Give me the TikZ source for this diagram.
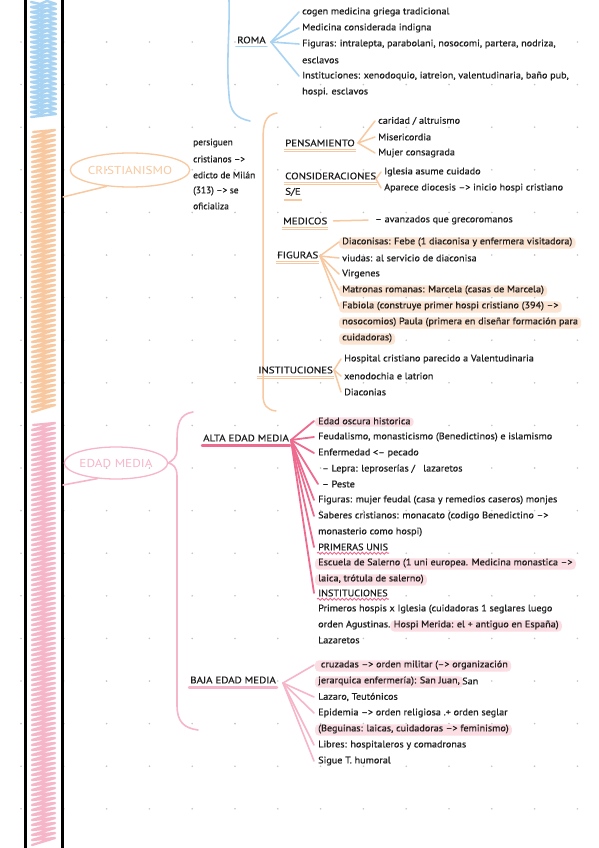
\documentclass[tikz,border=0pt]{standalone}
\usepackage{fontspec}
\setmainfont{PT Sans}
\newfontfamily\txtfont[Ligatures=TeX, FakeStretch=1.07, FakeBold=0.6]{PT Sans}
\newfontfamily\narfont[Ligatures=TeX, FakeBold=0.6]{PT Sans}
\newfontfamily\hdfont[Ligatures=TeX, FakeStretch=1.15, FakeBold=0.6]{PT Sans}
\newfontfamily\bubfont[Ligatures=TeX, FakeStretch=1.15]{PT Sans}
\usetikzlibrary{backgrounds,decorations.pathmorphing,shapes.geometric}
\definecolor{bl}{HTML}{A9D3F2}
\definecolor{orc}{HTML}{F8C9A0}
\definecolor{orl}{HTML}{FCE4D2}
\definecolor{pk}{HTML}{F6B6C9}
\definecolor{pkd}{HTML}{EE6B90}
\definecolor{pkl}{HTML}{FBDDE4}
\definecolor{ink}{HTML}{1E1E1E}
\definecolor{dotc}{HTML}{C4C4C4}
\begin{document}
\begin{tikzpicture}[x=1pt,y=-1pt,
  txt/.style={anchor=west, inner sep=1pt, text=ink, font=\txtfont\fontsize{9.5}{10}\selectfont},
  ntxt/.style={anchor=west, inner sep=1pt, text=ink, font=\narfont\fontsize{9.4}{10}\selectfont},
  hd/.style={anchor=west, inner sep=1pt, text=ink, font=\hdfont\fontsize{9.5}{10}\selectfont},
  bub/.style={ellipse, line width=1.3pt, inner sep=0pt, font=\bubfont\fontsize{11.5}{12}\selectfont},
  blline/.style={bl, line width=1.6pt, line cap=round},
  orline/.style={orc, line width=1.5pt, line cap=round},
  uline/.style={orc, line width=0.8pt},
  pkline/.style={pkd, line width=1.8pt, line cap=round},
  plline/.style={pk, line width=1.6pt, line cap=round},
  hlo/.style={orl, rounded corners=4pt},
  hlp/.style={pkl, rounded corners=4pt},
  wav/.style={pkd, line width=0.9pt, decorate, decoration={snake, amplitude=1pt, segment length=4pt}}]
\useasboundingbox (0,0) rectangle (599,848);
\begin{scope}[on background layer]
\fill[white] (0,0) rectangle (599,848);
\foreach \i in {0,...,13} \foreach \j in {0,...,19} \fill[dotc] ({21+42.8*\i},{42+42.6*\j}) circle (0.9pt);
\end{scope}

% ---- left bar ----
\draw[bl, line width=2.4pt, line cap=round, line join=round] (31,2) \foreach \y in {2,7,...,112} { -- (40,\y+2) -- (47,\y-1) -- (56,\y+2) -- (31,\y+5) };
\draw[orc, line width=2.3pt, line cap=round, line join=round] (33,132) \foreach \y in {130,135,...,405} { -- (55,\y) -- (32,\y+7) };
\draw[pk, line width=2.3pt, line cap=round, line join=round] (33,425) \foreach \y in {423,428,...,840} { -- (55,\y) -- (32,\y+7) };
\draw[black, line width=3pt] (25,0) -- (25,848);
\draw[black, line width=3pt] (62,0) -- (62,848);

% ---- ROMA ----
\draw[blline] (229,0) .. controls (230,30) and (226,60) .. (229,95) .. controls (230,112) and (236,118) .. (250,121);
\node[hd] (roma) at (236,40) {ROMA};
\draw[blline] ([yshift=-2pt]roma.south west) -- ([yshift=-2pt]roma.south east);
\coordinate (romaO) at (271,42);
\node[txt] (r1) at (301,12) {cogen medicina griega tradicional};
\node[txt] (r2) at (301,28) {Medicina considerada indigna};
\node[txt] (r3) at (301,44) {Figuras: intralepta, parabolani, nosocomi, partera, nodriza,};
\node[txt] (r4) at (301,60) {esclavos};
\node[txt] (r5) at (301,76) {Instituciones: xenodoquio, iatreion, valentudinaria, baño pub,};
\node[txt] (r6) at (301,92) {hospi. esclavos};
\foreach \n in {r1,r2,r3,r5} \draw[blline] (romaO) -- ([xshift=-2pt]\n.west);

% ---- CRISTIANISMO ----
\node[bub, draw=orc, text=orc, minimum width=110pt, minimum height=34pt] (cri) at (130,170) {CRISTIANISMO};
\coordinate (barC) at (63,197);
\draw[orline] (barC) -- (cri.215);
\node[ntxt] (p1) at (192,143) {persiguen};
\node[ntxt] (p2) at (192,159) {cristianos -->};
\node[ntxt] (p3) at (192,175) {edicto de Milán};
\node[ntxt] (p4) at (192,191) {(313) --> se};
\node[ntxt] (p5) at (192,206) {oficializa};
\draw[orline] (277,113) .. controls (265,115) and (263,124) .. (263,140) -- (263,395) .. controls (263,405) and (267,410) .. (276,411);

\node[hd] (pen) at (284,143) {PENSAMIENTO};
\draw[uline] ([yshift=-2pt]pen.south west) -- ([yshift=-2pt]pen.south east);
\draw[uline] ([yshift=-3.5pt]pen.south west) -- ([yshift=-3.5pt]pen.south east);
\coordinate (penO) at (358,143);
\node[txt] (pe1) at (377,121) {caridad / altruismo};
\node[txt] (pe2) at (377,137) {Misericordia};
\node[txt] (pe3) at (377,153) {Mujer consagrada};
\foreach \n in {pe1,pe2,pe3} \draw[orline] (penO) -- ([xshift=-2pt]\n.west);

\node[hd] (con) at (284,176) {CONSIDERACIONES};
\node[hd] (se) at (284,192) {S/E};
\draw[uline] ([yshift=-2pt]con.south west) -- ([yshift=-2pt]con.south east);
\draw[uline] ([yshift=-3.5pt]con.south west) -- ([yshift=-3.5pt]con.south east);
\draw[uline] ([yshift=-2pt]se.south west) -- ([yshift=-2pt]se.south east);
\draw[uline] ([yshift=-3.5pt]se.south west) -- ([yshift=-3.5pt]se.south east);
\coordinate (conO) at (376,179);
\node[txt] (c1) at (383,172) {Iglesia asume cuidado};
\node[txt] (c2) at (383,188) {Aparece diocesis --> inicio hospi cristiano};
\foreach \n in {c1,c2} \draw[orline] (conO) -- ([xshift=-2pt]\n.west);

\node[hd] (med) at (282,221) {MEDICOS};
\draw[uline] ([yshift=-2pt]med.south west) -- ([yshift=-2pt]med.south east);
\draw[uline] ([yshift=-3.5pt]med.south west) -- ([yshift=-3.5pt]med.south east);
\node[txt] (m1) at (374,220) {-- avanzados que grecoromanos};
\draw[orline, shorten <=5pt, shorten >=6pt] (med.east) -- (m1.west);

\node[hd] (fig) at (276,255) {FIGURAS};
\draw[uline] ([yshift=-2pt]fig.south west) -- ([yshift=-2pt]fig.south east);
\draw[uline] ([yshift=-3.5pt]fig.south west) -- ([yshift=-3.5pt]fig.south east);
\coordinate (figO) at (320,256);
\node[txt] (f1) at (341,242) {Diaconisas: Febe (1 diaconisa y enfermera visitadora)};
\node[txt] (f2) at (341,258) {viudas: al servicio de diaconisa};
\node[txt] (f3) at (341,274) {Virgenes};
\node[txt] (f4) at (341,290) {Matronas romanas: Marcela (casas de Marcela)};
\node[txt] (f5) at (341,306) {Fabiola (construye primer hospi cristiano (394) -->};
\node[txt] (f6) at (341,322) {nosocomios) Paula (primera en diseñar formación para};
\node[txt] (f7) at (341,338) {cuidadoras)};
\foreach \n in {f1,f2,f3,f4,f5} \draw[orline] (figO) -- ([xshift=-2pt]\n.west);

\node[hd] (ins) at (257,370) {INSTITUCIONES};
\draw[uline] ([yshift=-2pt]ins.south west) -- ([yshift=-2pt]ins.south east);
\draw[uline] ([yshift=-3.5pt]ins.south west) -- ([yshift=-3.5pt]ins.south east);
\coordinate (insO) at (334,370);
\node[txt] (i1) at (343,359) {Hospital cristiano parecido a Valentudinaria};
\node[txt] (i2) at (343,376) {xenodochia e latrion};
\node[txt] (i3) at (343,392) {Diaconias};
\foreach \n in {i1,i2,i3} \draw[orline] (insO) -- ([xshift=-2pt]\n.west);

% ---- EDAD MEDIA ----
\node[bub, draw=pk, text=pk, minimum width=90pt, minimum height=32pt] (edm) at (116,463) {EDAD MEDIA};
\coordinate (barE) at (63,485);
\draw[plline] (barE) -- (edm.220);
\draw[plline] (193,412) .. controls (179,414) and (177,425) .. (177,440) -- (177,450) .. controls (177,457) and (173,460) .. (edm.east) .. controls (173,464) and (177,467) .. (177,476) -- (177,705) .. controls (177,722) and (184,728) .. (198,730);

\node[hd] (alta) at (202,438) {ALTA EDAD MEDIA};
\draw[pkd, line width=2.4pt, line cap=round] ([yshift=-3pt]alta.south west) -- ([yshift=-3pt]alta.south east);
\coordinate (altaO) at (291,440);
\node[txt] (a1) at (317,421) {Edad oscura historica};
\node[txt] (a2) at (317,437) {Feudalismo, monasticismo (Benedictinos) e islamismo};
\node[txt] (a3) at (317,453) {Enfermedad <-- pecado};
\node[txt] (a4) at (321,469) {-- Lepra: leproserías /\ \ \ lazaretos};
\node[txt] (a5) at (321,484) {-- Peste};
\node[txt] (a6) at (317,500) {Figuras: mujer feudal (casa y remedios caseros) monjes};
\node[txt] (a7) at (317,516) {Saberes cristianos: monacato (codigo Benedictino -->};
\node[txt] (a8) at (317,532) {monasterio como hospi)};
\node[txt] (a9) at (317,547) {PRIMERAS UNIS};
\node[txt] (a10) at (317,563) {Escuela de Salerno (1 uni europea. Medicina monastica -->};
\node[txt] (a11) at (317,579) {laica, trótula de salerno)};
\node[txt] (a12) at (317,593) {INSTITUCIONES};
\node[txt] (a13) at (317,609) {Primeros hospis x Iglesia (cuidadoras 1 seglares luego};
\node[txt] (a14) at (317,625) {orden Agustinas.};
\node[txt, anchor=west] (a14b) at ([xshift=1pt]a14.east) {Hospi Merida: el + antiguo en España)};
\node[txt] (a15) at (317,640) {Lazaretos};
\foreach \n in {a1,a2,a3,a5,a6,a7,a9,a12} \draw[pkline] (altaO) -- ([xshift=-3pt]\n.west);
\draw[wav] ([yshift=-1.5pt]a9.south west) -- ([yshift=-1.5pt]a9.south east);
\draw[wav] ([yshift=-1.5pt]a12.south west) -- ([yshift=-1.5pt]a12.south east);

\node[hd] (baja) at (189,680) {BAJA EDAD MEDIA};
\draw[pk, line width=2.4pt, line cap=round] ([yshift=-3pt]baja.south west) -- ([yshift=-3pt]baja.south east);
\coordinate (bajaO) at (283,683);
\node[txt] (b1) at (317,665) {\ cruzadas --> orden militar (--> organización};
\node[txt] (b2) at (317,681) {jerarquica enfermería): San Juan,};
\node[txt, anchor=west] (b2b) at (b2.east) {San};
\node[txt] (b3) at (317,697) {Lazaro, Teutónicos};
\node[txt] (b4) at (317,713) {Epidemia --> orden religiosa .+ orden seglar};
\node[txt] (b5) at (317,729) {(Beguinas: laicas, cuidadoras --> feminismo)};
\node[txt] (b6) at (317,745) {Libres: hospitaleros y comadronas};
\node[txt] (b7) at (317,761) {Sigue T. humoral};
\foreach \n in {b1,b3,b4,b6,b7} \draw[plline] (bajaO) -- ([xshift=-3pt]\n.west);

% ---- highlights ----
\begin{scope}[on background layer]
\foreach \n in {f1,f4,f5,f6,f7} \fill[hlo] ([xshift=-2pt,yshift=-1pt]\n.south west) rectangle ([xshift=2pt,yshift=-1pt]\n.north east);
\foreach \n in {a1,a10,a11,a14b,b1,b2,b5} \fill[hlp] ([xshift=-2pt,yshift=-1pt]\n.south west) rectangle ([xshift=2pt,yshift=-1pt]\n.north east);
\end{scope}
\end{tikzpicture}
\end{document}
